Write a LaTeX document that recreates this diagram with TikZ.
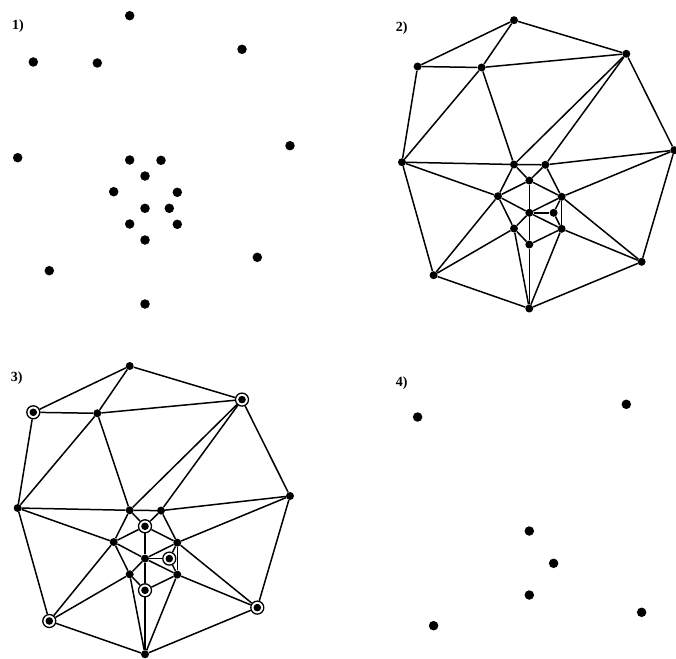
\documentclass[tikz,border=0pt]{standalone}
\usepackage{fontspec}
\setmainfont{Liberation Serif}
\usepackage{tikz}
\usetikzlibrary{calc}

\begin{document}
\begin{tikzpicture}[
  x=1pt, y=-1pt,
  dot/.style={circle, fill=black, inner sep=0pt, minimum size=9.5pt},
  smalldot/.style={circle, fill=black, inner sep=0pt, minimum size=8pt},
  chosen/.style={circle, draw=black, line width=1.3pt, fill=white, inner sep=0pt,
    minimum size=13pt,
    path picture={\fill[black] (path picture bounding box.center) circle (3.8pt);}},
  edge/.style={draw=black, line width=1.5pt},
  tag/.style={text=black, font=\fontsize{14}{16}\selectfont\bfseries}
]

\useasboundingbox (0,0) rectangle (676,658);

% ---- 1) the point set ----
\begin{scope}[name prefix=p1-]
  \foreach \n/\x/\y in {A/129.7/15.7, B/242/49.3, C/33.3/62, D/97.3/63,
      E/290/145.7, F/17.7/157.7, G/129.7/160, H/161/160.3, I/145/176,
      J/113.7/191.7, K/177.3/192.3, L/145/208.3, M/169.3/208.3,
      N/129.7/224, O/177.3/224.3, P/145/240, Q/257.3/257.3,
      R/49.3/270.7, S/145/304}
    \node[dot] (\n) at (\x,\y) {};
\end{scope}

% ---- 2) triangulation ----
\begin{scope}[shift={(384.3,4.5)}, name prefix=p2-]
  \foreach \n/\x/\y in {A/129.7/15.7, B/242/49.3, C/33.3/62, D/97.3/63,
      E/290/145.7, F/17.7/157.7, G/129.7/160, H/161/160.3, I/145/176,
      J/113.7/191.7, K/177.3/192.3, L/145/208.3, M/169.3/208.3,
      N/129.7/224, O/177.3/224.3, P/145/240, Q/257.3/257.3,
      R/49.3/270.7, S/145/304}
    \node[smalldot] (\n) at (\x,\y) {};
  \foreach \a/\b in {A/B, B/E, E/Q, Q/S, S/R, R/F, F/C, C/A,
      A/D, C/D, D/B, D/F, D/G, F/G, G/H, H/E, B/G, B/H,
      F/J, R/J, G/J, G/I, H/I, H/K, I/J, I/K, I/L, J/L, J/N,
      K/L, L/M, L/O, L/N, L/P, M/K, M/O, K/O, N/P, P/O,
      R/N, S/N, S/P, S/O, K/E, K/Q, O/Q}
    \draw[edge] (\a) -- (\b);
\end{scope}

% ---- 3) independent set marked ----
\begin{scope}[shift={(0,350.3)}, name prefix=p3-]
  \foreach \n/\x/\y in {A/129.7/15.7, D/97.3/63, E/290/145.7, F/17.7/157.7,
      G/129.7/160, H/161/160.3, J/113.7/191.7, K/177.3/192.3,
      L/145/208.3, N/129.7/224, O/177.3/224.3, S/145/304}
    \node[smalldot] (\n) at (\x,\y) {};
  \foreach \n/\x/\y in {B/242/49.3, C/33.3/62, I/145/176, M/169.3/208.3,
      P/145/240, Q/257.3/257.3, R/49.3/270.7}
    \node[chosen] (\n) at (\x,\y) {};
  \foreach \a/\b in {A/B, B/E, E/Q, Q/S, S/R, R/F, F/C, C/A,
      A/D, C/D, D/B, D/F, D/G, F/G, G/H, H/E, B/G, B/H,
      F/J, R/J, G/J, G/I, H/I, H/K, I/J, I/K, I/L, J/L, J/N,
      K/L, L/M, L/O, L/N, L/P, M/K, M/O, K/O, N/P, P/O,
      R/N, S/N, S/P, S/O, K/E, K/Q, O/Q}
    \draw[edge] (\a) -- (\b);
\end{scope}

% ---- 4) the chosen points ----
\begin{scope}[shift={(384.3,355)}, name prefix=p4-]
  \foreach \n/\x/\y in {B/242/49.3, C/33.3/62, I/145/176, M/169.3/208.3,
      P/145/240, Q/257.3/257.3, R/49.3/270.7}
    \node[dot] (\n) at (\x,\y) {};
\end{scope}

% ---- panel tags ----
\node[tag] (t1) at (18,26) {1)};
\node[tag] (t2) at (401.7,27.7) {2)};
\node[tag] (t3) at (16.7,377.7) {3)};
\node[tag] (t4) at (401.7,383.3) {4)};

\end{tikzpicture}
\end{document}
